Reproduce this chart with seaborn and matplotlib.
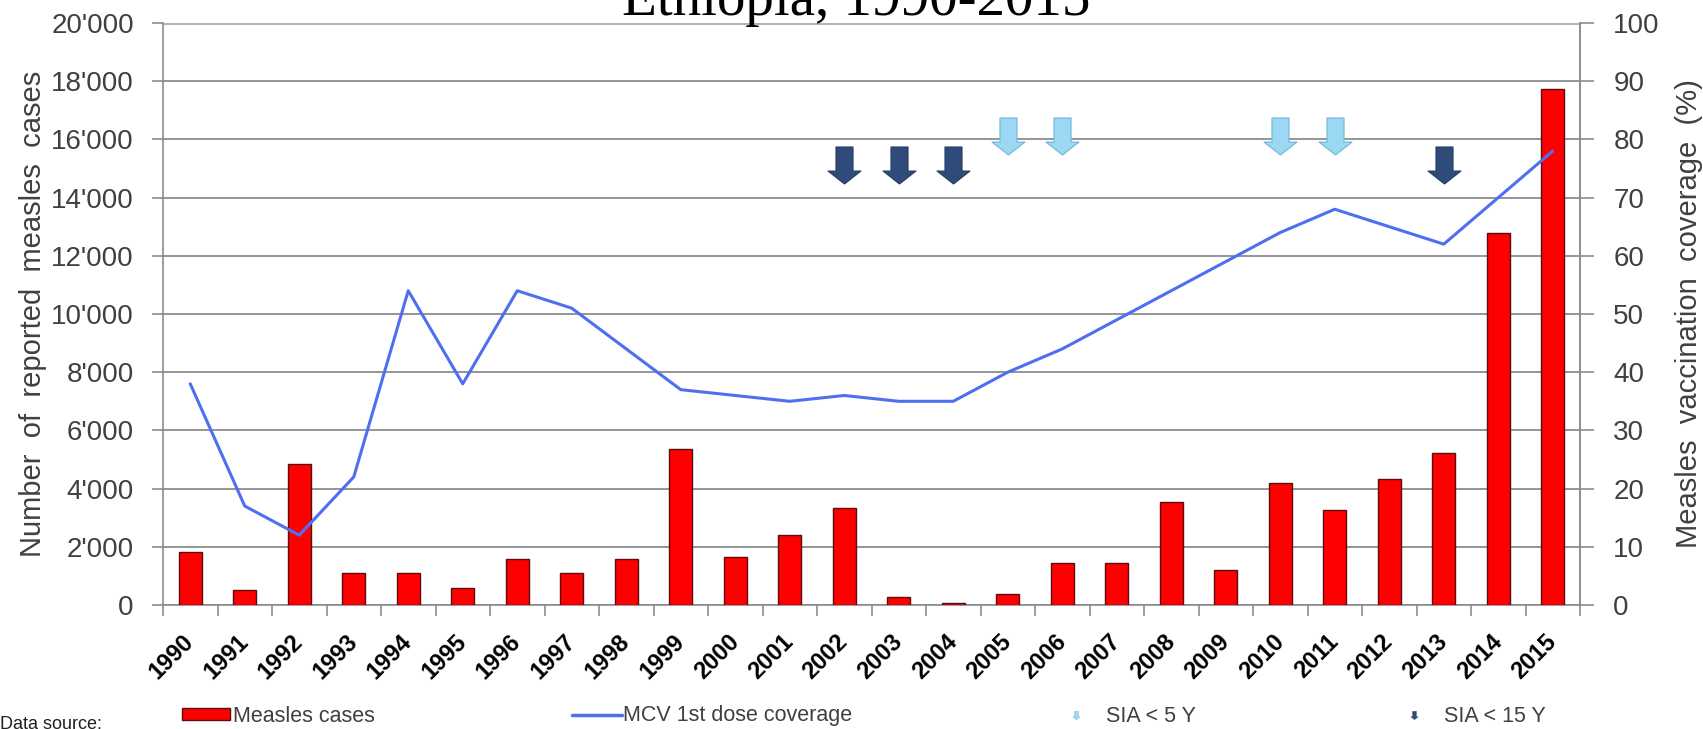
import numpy as np
import pandas as pd
import matplotlib
matplotlib.use("Agg")
import matplotlib.pyplot as plt
import seaborn as sns
from matplotlib.path import Path
from matplotlib.lines import Line2D
from matplotlib.patches import Patch

# ---------------- data ----------------
years = [str(y) for y in range(1990, 2016)]
measles_cases = [1830, 500, 4850, 1100, 1100, 600, 1580, 1100, 1570, 5350,
                 1640, 2400, 3350, 260, 70, 370, 1450, 1450, 3550, 1200,
                 4200, 3270, 4340, 5230, 12780, 17720]
mcv1_coverage = [38, 17, 12, 22, 54, 38, 54, 51, 44, 37,
                 36, 35, 36, 35, 35, 40, 44, 49, 54, 59,
                 64, 68, 65, 62, 70, 78]
sia_under5_years = ["2005", "2006", "2010", "2011"]
sia_under15_years = ["2002", "2003", "2004", "2013"]
left_ticks = list(range(0, 20001, 2000))
right_ticks = list(range(0, 101, 10))
title = "Ethiopia, 1990-2015"
ylabel_left = "Number  of  reported  measles  cases"
ylabel_right = "Measles  vaccination  coverage  (%)"
legend_labels = ["Measles cases", "MCV 1st dose coverage", "SIA < 5 Y", "SIA < 15 Y"]

# ---------------- style ----------------
sns.set_theme(style="white")
plt.rcParams["font.family"] = ["Liberation Sans", "DejaVu Sans"]

W, H = 1703, 729
fig = plt.figure(figsize=(W / 100, H / 100), dpi=100)
L, R, T, B = 163, 1580, 23, 605
ax = fig.add_axes([L / W, (H - B) / H, (R - L) / W, (B - T) / H])

RED = "#FF0000"
LINE = "#4D6FF0"
LIGHT = "#9BD8F4"
LIGHT_EDGE = "#6FB6DA"
DARK = "#2F4B7A"
GRID = "#8C8C8C"
TXT = "#404040"

df = pd.DataFrame({"year": years, "cases": measles_cases, "cov": mcv1_coverage})

sns.barplot(data=df, x="year", y="cases", order=years, color=RED, saturation=1,
            edgecolor="#5A0E0E", linewidth=1.0, width=0.42, ax=ax, zorder=3)

# arrow marker (down arrow)
arrow = Path([(-0.23, 0.5), (0.23, 0.5), (0.23, -0.15), (0.445, -0.15),
              (0.0, -0.5), (-0.445, -0.15), (-0.23, -0.15), (-0.23, 0.5)],
             [Path.MOVETO] + [Path.LINETO] * 6 + [Path.CLOSEPOLY])

pos = {y: i for i, y in enumerate(years)}
x5 = [pos[y] for y in sia_under5_years]
x15 = [pos[y] for y in sia_under15_years]
ax.scatter(x5, [16117] * len(x5), marker=arrow, s=710, color=LIGHT,
           edgecolors=LIGHT_EDGE, linewidths=0.8, zorder=5)
ax.scatter(x15, [15120] * len(x15), marker=arrow, s=710, color=DARK,
           edgecolors="#253D63", linewidths=0.8, zorder=5)

ax2 = ax.twinx()
sns.lineplot(x=np.arange(len(years)), y=df["cov"].values, ax=ax2, color=LINE,
             linewidth=2.2, zorder=6)

# axes limits / ticks
ax.set_xlim(-0.5, len(years) - 0.5)
ax.set_ylim(0, 20000)
ax2.set_ylim(0, 100)

ax.set_yticks(left_ticks)
ax.set_yticklabels([f"{v:,}".replace(",", "'") for v in left_ticks])
ax2.set_yticks(right_ticks)
ax2.set_yticklabels([str(v) for v in right_ticks])

ax.set_xticks(np.arange(len(years)))
ax.set_xticklabels(years, rotation=45, ha="right", va="center",
                   rotation_mode="anchor", fontweight="bold", fontsize=17, color="black")
ax.set_xticks(np.arange(-0.5, len(years)), minor=True)
ax.tick_params(axis="x", which="major", length=0, pad=24)
ax.tick_params(axis="x", which="minor", length=8, width=1.2, color=GRID, direction="out", bottom=True)
ax.tick_params(axis="y", length=8, width=1.2, color=GRID, left=True, labelsize=20,
               labelcolor=TXT, pad=13)
ax2.tick_params(axis="y", length=10, width=1.2, color=GRID, right=True, labelsize=20,
                labelcolor=TXT, pad=14)

ax.yaxis.grid(True, color=GRID, linewidth=1.3)
ax.set_axisbelow(True)
ax2.grid(False)
# top gridline is lighter and slightly thicker in the source
glines = ax.yaxis.get_gridlines()
glines[-1].set_color("#B4B4B4")
glines[-1].set_linewidth(2.2)

for a in (ax, ax2):
    a.spines["top"].set_visible(False)
    for s in ("left", "right", "bottom"):
        a.spines[s].set_color(GRID)
        a.spines[s].set_linewidth(1.2)
ax2.spines["left"].set_visible(False)
ax2.spines["bottom"].set_visible(False)

ax.set_xlabel("")
ax.set_ylabel(ylabel_left, fontsize=21, color=TXT, labelpad=3)
ax2.set_ylabel(ylabel_right, fontsize=21, color=TXT, labelpad=11, rotation=90)
ax2.set_xlabel("")

# title (partly cut at the top as in the source)
fig.text(856 / W, 1 - 15 / H, title, ha="center", va="baseline",
         family=["Liberation Serif", "DejaVu Serif"], fontsize=41, color="black")

# legends
ly = 1 - 716 / H
lfs = 15.5
h1 = Patch(facecolor=RED, edgecolor="#5A0E0E", linewidth=1.0)
h2 = Line2D([], [], color=LINE, linewidth=2.5)
h3 = Line2D([], [], color=LIGHT, marker=arrow, markersize=6, linestyle="none",
            markeredgecolor=LIGHT_EDGE, markeredgewidth=0.3)
h4 = Line2D([], [], color=DARK, marker=arrow, markersize=6, linestyle="none",
            markeredgecolor=DARK, markeredgewidth=0.3)
specs = [(h1, legend_labels[0], 182, 2.25, 0.12),
         (h2, legend_labels[1], 572, 2.3, 0.05),
         (h3, legend_labels[2], 1067, 0.8, 1.0),
         (h4, legend_labels[3], 1405, 0.8, 1.0)]
for h, lab, xpx, hl, htp in specs:
    leg = fig.legend([h], [lab], loc="center left", bbox_to_anchor=(xpx / W, ly),
                     frameon=False, fontsize=lfs, handlelength=hl, handleheight=0.5,
                     handletextpad=htp, borderpad=0, borderaxespad=0)
    for t in leg.get_texts():
        t.set_color(TXT)

fig.text(0, 1 - 716 / H, "Data source:", ha="left", va="top", fontsize=13, color="#202020")

fig.savefig("out.png", dpi=100)
